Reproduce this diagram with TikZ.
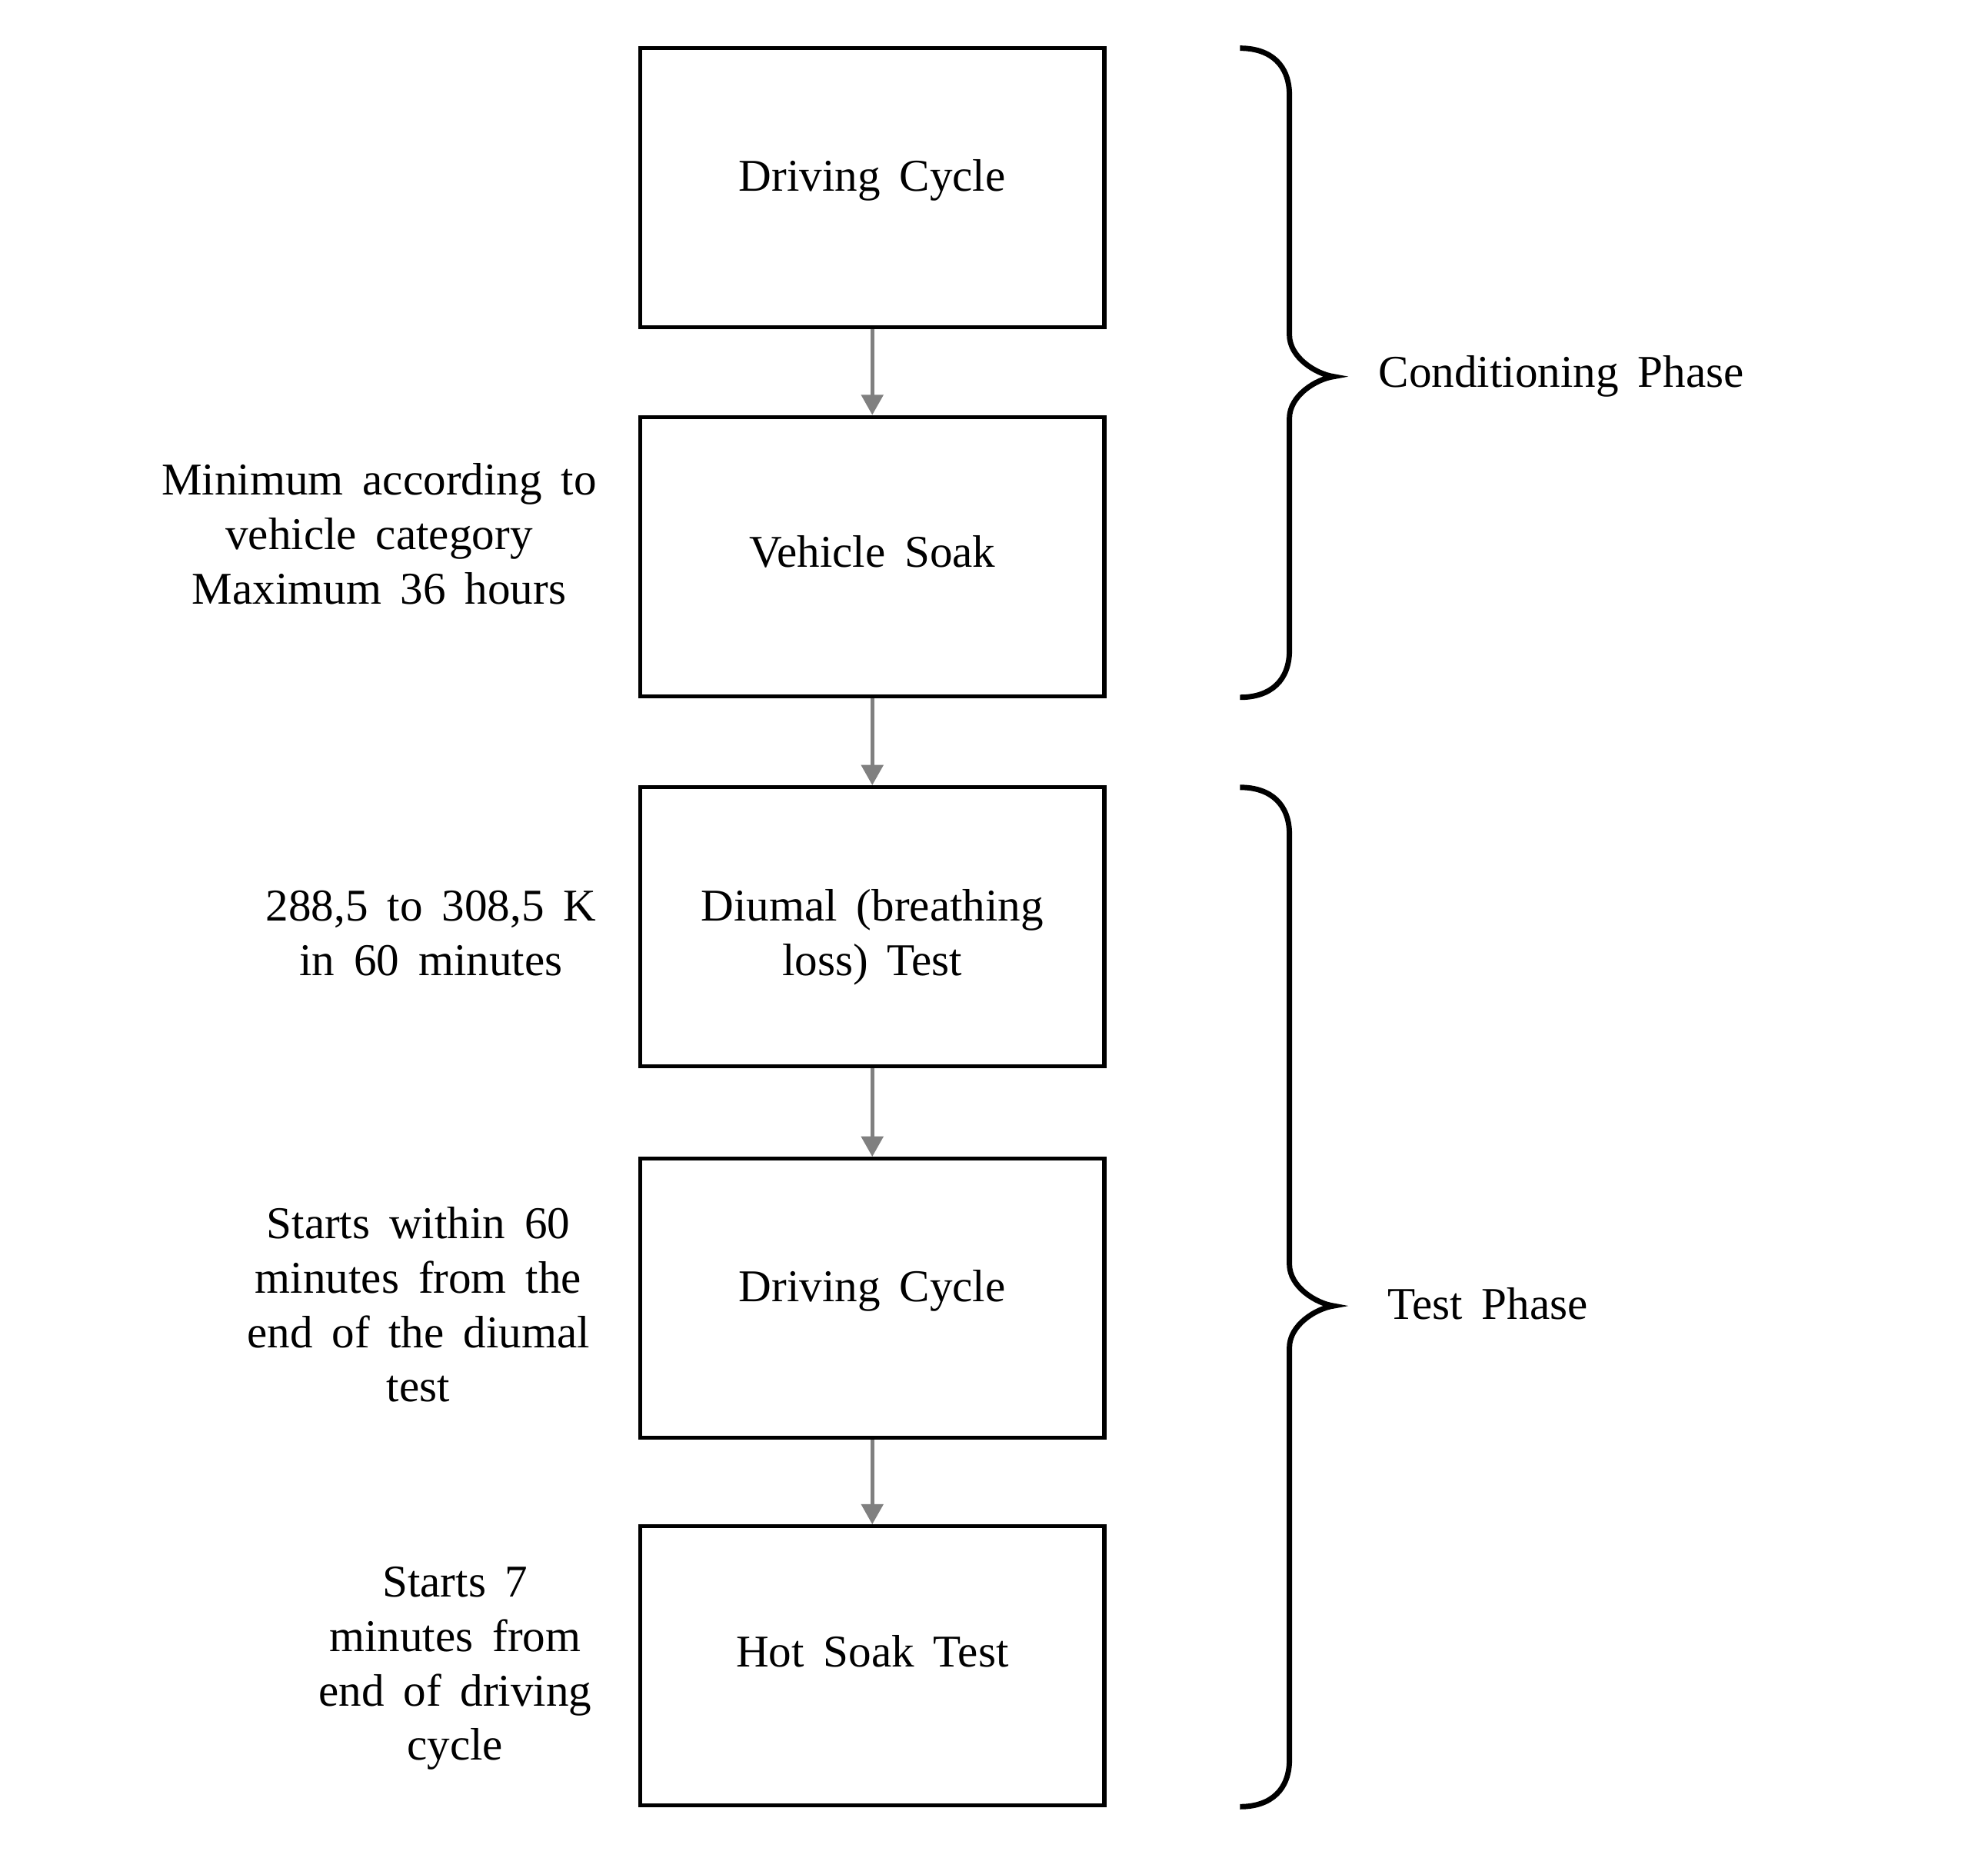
\documentclass[tikz,border=0pt]{standalone}
\usepackage{fontspec}
\setmainfont{Liberation Serif}
\usetikzlibrary{arrows.meta}
\begin{document}
\begin{tikzpicture}[x=0.01cm,y=-0.01cm,
    font={\fontsize{10.2}{12.2}\selectfont\spaceskip=0.42em plus 0.1em},
    stage/.style={draw,line width=0.9pt,minimum width=3.66cm,minimum height=2.2cm,inner sep=0pt,align=center},
    note/.style={align=center},
    flow/.style={-{Triangle[length=1.6mm,width=1.7mm]},line width=0.9pt,gray},
    curly/.style={line width=1.2pt}]
      \useasboundingbox (0,0) rectangle (1568,1465);
      % the five stages
      \node[stage,text depth=5.5pt] (drive1) at (688,148) {Driving Cycle};
      \node[stage,text depth=2.2pt] (soak) at (688,439) {Vehicle Soak};
      \node[stage,text height=24pt] (diurnal) at (688,731) {Diumal (breathing\\loss) Test};
      \node[stage,text depth=5.5pt] (drive2) at (688,1024) {Driving Cycle};
      \node[stage,text depth=6.5pt] (hotsoak) at (688,1314) {Hot Soak Test};
      \draw[flow] (drive1) -- (soak);
      \draw[flow] (soak) -- (diurnal);
      \draw[flow] (diurnal) -- (drive2);
      \draw[flow] (drive2) -- (hotsoak);
      % notes on the left
      \node[note] (soaknote) at (299,421) {Minimum according to\\vehicle category\\Maximum 36 hours};
      \node[note] (tempnote) at (340,736) {288,5 to 308,5 K\\in 60 minutes};
      \node[note] (drivenote) at (330,1029) {Starts within 60\\minutes from the\\end of the diumal\\test};
      \node[note] (hotnote) at (359,1316) {Starts 7\\minutes from\\end of driving\\cycle};
      % braces and phases
      \draw[curly] (978,38) .. controls (1003,38) and (1017,52) .. (1017,75) -- (1017,264)
        .. controls (1017,282) and (1038,295) .. (1052,297)
        .. controls (1038,299) and (1017,312) .. (1017,330) -- (1017,513)
        .. controls (1017,536) and (1003,550) .. (978,550);
      \draw[curly] (978,621) .. controls (1003,621) and (1017,635) .. (1017,658) -- (1017,997)
        .. controls (1017,1015) and (1038,1028) .. (1052,1030)
        .. controls (1038,1032) and (1017,1045) .. (1017,1063) -- (1017,1388)
        .. controls (1017,1411) and (1003,1425) .. (978,1425);
      \node[anchor=west] (condphase) at (1075,297) {Conditioning Phase};
      \node[anchor=west] (testphase) at (1082,1028) {Test Phase};
    \end{tikzpicture}
\end{document}
